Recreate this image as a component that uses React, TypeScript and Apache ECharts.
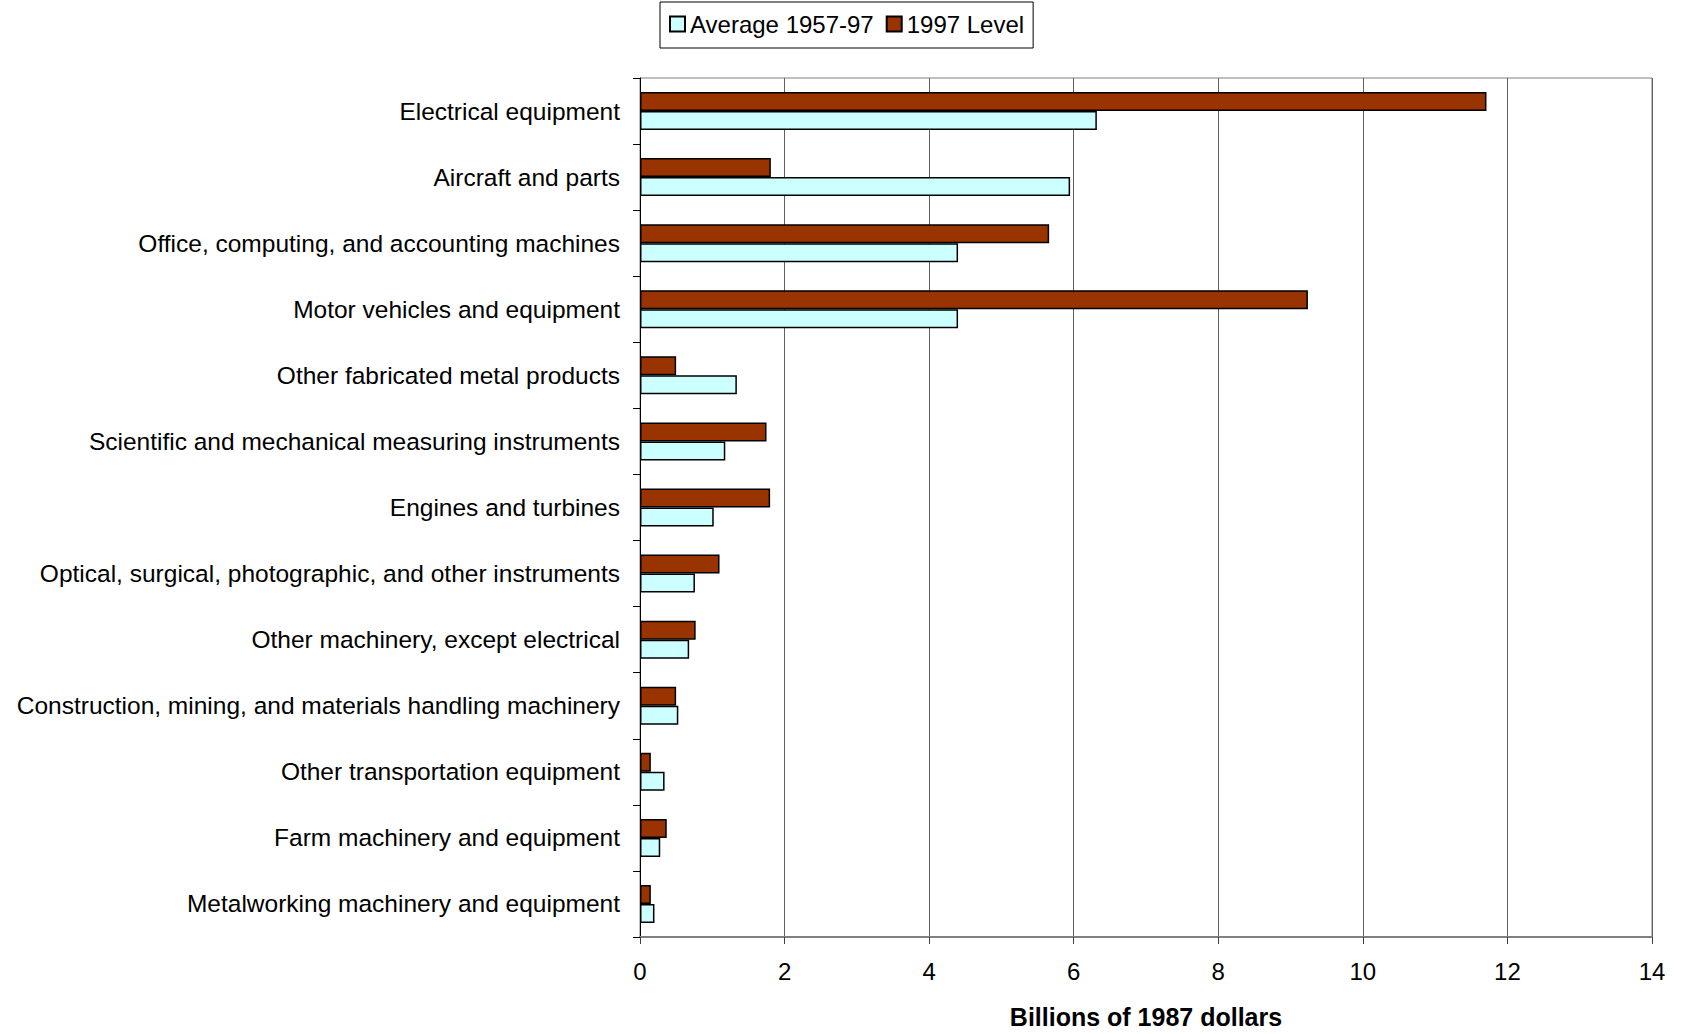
import React, { useEffect, useRef } from "react";
import * as echarts from "echarts";

const categories = [
  "Electrical equipment",
  "Aircraft and parts",
  "Office, computing, and accounting machines",
  "Motor vehicles and equipment",
  "Other fabricated metal products",
  "Scientific and mechanical measuring instruments",
  "Engines and turbines",
  "Optical, surgical, photographic, and other instruments",
  "Other machinery, except electrical",
  "Construction, mining, and materials handling machinery",
  "Other transportation equipment",
  "Farm machinery and equipment",
  "Metalworking machinery and equipment",
];

const average195797 = [6.32, 5.95, 4.4, 4.4, 1.34, 1.18, 1.02, 0.76, 0.68, 0.53, 0.34, 0.28, 0.2];
const level1997 = [11.71, 1.81, 5.66, 9.24, 0.5, 1.75, 1.8, 1.1, 0.77, 0.5, 0.15, 0.37, 0.15];

const xTicks = [0, 2, 4, 6, 8, 10, 12, 14];

const FONT = "'Liberation Sans', Arial, sans-serif";

export default function App() {
  const ref = useRef<HTMLDivElement>(null);

  useEffect(() => {
    if (!ref.current) return;
    const chart = echarts.init(ref.current, undefined, { renderer: "svg" });
    chart.setOption({
      animation: false,
      backgroundColor: "#ffffff",
      textStyle: { fontFamily: FONT, color: "#000" },
      legend: {
        top: 2,
        left: 660,
        orient: "horizontal",
        borderColor: "#000",
        borderWidth: 1,
        padding: [10, 9, 12, 9],
        itemGap: 12,
        itemWidth: 15,
        itemHeight: 15,
        icon: "rect",
        textStyle: { fontFamily: FONT, fontSize: 24, color: "#000" },
        data: ["Average 1957-97", "1997 Level"],
      },
      grid: {
        left: 640,
        right: 29,
        top: 78,
        bottom: 95,
        show: true,
        borderColor: "#808080",
        borderWidth: 1,
        containLabel: false,
      },
      xAxis: {
        type: "value",
        min: xTicks[0],
        max: xTicks[xTicks.length - 1],
        interval: 2,
        name: "Billions of 1987 dollars",
        nameLocation: "middle",
        nameGap: 67,
        nameTextStyle: { fontFamily: FONT, fontSize: 25, fontWeight: "bold", color: "#000" },
        axisLine: { show: true, lineStyle: { color: "#808080", width: 2 } },
        axisTick: { show: true, length: 7, lineStyle: { color: "#404040" } },
        axisLabel: { fontFamily: FONT, fontSize: 24, color: "#000", margin: 22 },
        splitLine: { show: true, lineStyle: { color: "#606060", width: 1 } },
      },
      yAxis: {
        type: "category",
        data: categories,
        inverse: true,
        axisLine: { show: true, lineStyle: { color: "#000", width: 1 } },
        axisTick: { show: true, length: 7, inside: false, lineStyle: { color: "#000" } },
        axisLabel: { fontFamily: FONT, fontSize: 24.5, color: "#000", margin: 20 },
        splitLine: { show: false },
      },
      series: [
        {
          name: "1997 Level",
          type: "bar",
          data: level1997,
          barWidth: 19,
          barGap: "0%",
          itemStyle: { color: "#993300", borderColor: "#000", borderWidth: 1.5 },
        },
        {
          name: "Average 1957-97",
          type: "bar",
          data: average195797,
          barWidth: 19,
          barGap: "0%",
          itemStyle: { color: "#CCFFFF", borderColor: "#000", borderWidth: 1.5 },
        },
      ],
    });
    return () => chart.dispose();
  }, []);

  return (
    <div
      ref={ref}
      style={{ position: "fixed", left: 0, top: 0, width: 1681, height: 1034, background: "#fff" }}
    />
  );
}
